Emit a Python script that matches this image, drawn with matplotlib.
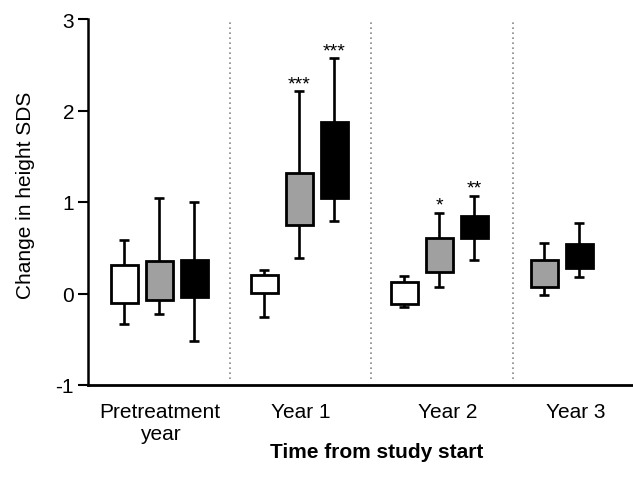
import numpy as np
import matplotlib
matplotlib.use("Agg")
import matplotlib.pyplot as plt

plt.rcParams['font.family'] = ['Liberation Sans', 'DejaVu Sans']

# -----------------------------
# Data
# -----------------------------
groups = ["Pretreatment\nyear", "Year 1", "Year 2", "Year 3"]
nan = np.nan

white_lo = [-0.33, -0.26, -0.15, nan]
white_q1 = [-0.10, 0.01, -0.11, nan]
white_q3 = [0.31, 0.20, 0.13, nan]
white_hi = [0.58, 0.26, 0.19, nan]

gray_lo = [-0.22, 0.39, 0.07, -0.02]
gray_q1 = [-0.07, 0.75, 0.23, 0.07]
gray_q3 = [0.36, 1.32, 0.61, 0.37]
gray_hi = [1.04, 2.21, 0.88, 0.55]

black_lo = [-0.52, 0.79, 0.37, 0.18]
black_q1 = [-0.04, 1.04, 0.61, 0.28]
black_q3 = [0.37, 1.87, 0.85, 0.54]
black_hi = [1.00, 2.57, 1.07, 0.77]

gray_sig = ["", "***", "*", ""]
black_sig = ["", "***", "**", ""]

# -----------------------------
# Layout
# -----------------------------
group_start = [0, 4, 8, 11]
label_pos = [1.03, 5.04, 9.26, 12.9]
dividers = [3.03, 7.06, 11.1]
box_w = 0.77
cap_w = 0.28

series = [
    (white_lo, white_q1, white_q3, white_hi, "white", None),
    (gray_lo, gray_q1, gray_q3, gray_hi, "#a0a0a0", gray_sig),
    (black_lo, black_q1, black_q3, black_hi, "black", black_sig),
]

fig = plt.figure(figsize=(6.33, 4.81), dpi=100)
ax = fig.add_axes([88/633, (481-386)/481, (633-88)/633, 366/481])

for s, (lo, q1, q3, hi, col, sig) in enumerate(series):
    for g in range(len(groups)):
        if np.isnan(q1[g]):
            continue
        x = group_start[g] + s
        ax.vlines(x, lo[g], hi[g], color="black", lw=1.9, zorder=2)
        ax.hlines([lo[g], hi[g]], x - cap_w/2, x + cap_w/2, color="black", lw=1.9, zorder=2)
        ax.bar(x, q3[g] - q1[g], bottom=q1[g], width=box_w, color=col,
               edgecolor="black", linewidth=2.0, zorder=3)
        if sig and sig[g]:
            ax.text(x, hi[g] - 0.01, sig[g], ha="center", va="bottom", fontsize=14)

for d in dividers:
    ax.vlines(d, -0.93, 3.0, color="#888888", lw=1.2, linestyles=(0, (1, 2)), zorder=1)

ax.set_xlim(-1.03, 14.54)
ax.set_ylim(-1, 3)
ax.set_yticks([-1, 0, 1, 2, 3])
ax.set_yticklabels(["-1", "0", "1", "2", "3"])
ax.set_xticks(label_pos)
ax.set_xticklabels(groups)

for side in ["top", "right"]:
    ax.spines[side].set_visible(False)
ax.spines["left"].set_linewidth(1.8)
ax.spines["bottom"].set_linewidth(2.0)

ax.tick_params(axis="y", length=7, width=1.5, pad=3, labelsize=15)
ax.tick_params(axis="x", length=0, pad=12, labelsize=15)

ax.set_ylabel("Change in height SDS", fontsize=15)
ax.yaxis.set_label_coords(-0.097, 0.52)
ax.set_xlabel("Time from study start", fontsize=15, fontweight="bold")
ax.xaxis.set_label_coords(0.53, -0.156)
ax.xaxis.label.set_va("top")

fig.savefig("out.png", dpi=100)
